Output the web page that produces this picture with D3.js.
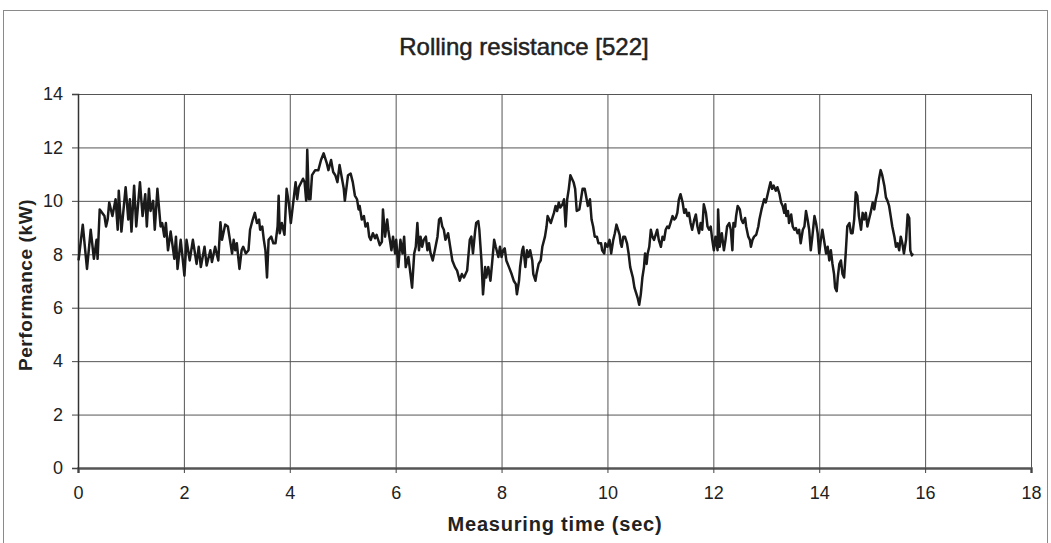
<!DOCTYPE html>
<html>
<head>
<meta charset="utf-8">
<script src="https://cdn.jsdelivr.net/npm/d3@7"></script>
<style>
  body { margin: 0; background: #ffffff; }
  svg { display: block; }
</style>
</head>
<body>
<svg id="chart" width="1051" height="543"></svg>
<script>
// Measured rolling-resistance power trace
const timeSec = [
  0.01,0.09,0.17,0.24,0.30,0.35,0.37,0.41,0.50,0.53,0.56,0.59,0.65,0.71,0.75,0.77,0.82,0.90,0.95,0.98,
  1.01,1.06,1.10,1.17,1.22,1.27,1.30,1.34,1.37,1.42,1.45,1.50,1.56,1.59,1.63,1.66,1.70,1.75,1.82,1.85,
  1.88,1.94,2.01,2.05,2.11,2.17,2.24,2.28,2.32,2.39,2.43,2.50,2.53,2.59,2.65,
  2.69,2.72,2.78,2.83,2.88,2.91,2.94,2.97,3.00,3.05,3.09,3.12,3.17,3.22,3.25,3.30,3.34,3.38,3.42,3.44,
  3.48,3.51,3.54,3.57,3.60,3.65,3.69,3.73,3.77,3.79,3.81,3.85,3.90,3.94,3.98,4.02,4.11,4.14,4.17,4.25,
  4.28,4.31,4.33,4.36,4.39,4.42,4.48,4.54,4.59,4.64,4.70,4.73,4.78,4.82,4.86,4.90,4.94,5.02,5.04,5.10,
  5.15,5.19,5.23,5.27,5.30,5.32,5.36,5.40,5.43,5.47,5.50,5.53,5.57,5.61,5.64,5.67,5.70,5.74,5.76,5.80,
  5.84,5.86,5.89,5.92,5.95,5.99,6.01,6.05,6.09,6.13,6.16,6.19,6.24,6.28,6.31,6.35,6.38,6.41,6.44,6.47,
  6.50,6.53,6.57,6.60,6.63,6.66,6.70,6.74,6.79,6.82,6.85,6.88,6.91,6.94,6.99,7.04,7.07,7.12,7.16,7.21,
  7.25,7.29,7.32,7.35,7.40,7.43,7.46,7.50,7.52,7.56,7.58,7.62,7.65,7.69,7.71,7.75,7.79,7.82,7.86,7.89,
  7.94,7.97,8.00,8.03,8.06,8.09,8.14,8.19,8.23,8.27,8.29,8.33,8.35,8.39,8.41,8.45,8.48,8.51,8.54,8.58,
  8.60,8.64,8.66,8.70,8.74,8.77,8.82,8.85,8.87,8.90,8.93,8.96,8.99,9.02,9.05,9.08,9.11,9.15,9.18,9.21,
  9.24,9.27,9.30,9.33,9.36,9.39,9.42,9.47,9.50,9.53,9.57,9.59,9.63,9.67,9.70,9.73,9.76,9.80,9.83,9.88,
  9.90,9.94,9.96,10.00,10.04,10.07,10.11,10.14,10.17,10.20,10.23,10.25,10.27,10.30,10.33,10.37,10.40,10.43,10.48,10.51,
  10.55,10.57,10.60,10.63,10.66,10.69,10.71,10.74,10.76,10.79,10.82,10.85,10.88,10.91,10.94,10.97,11.01,11.04,11.07,11.10,
  11.13,11.16,11.19,11.23,11.26,11.29,11.32,11.35,11.38,11.42,11.45,11.48,11.51,11.54,11.57,11.60,11.64,11.67,11.70,11.73,
  11.76,11.79,11.82,11.86,11.89,11.92,11.95,11.98,12.01,12.04,12.08,12.09,12.12,12.16,12.20,12.23,12.26,12.30,12.33,12.36,
  12.38,12.41,12.43,12.46,12.50,12.53,12.56,12.60,12.62,12.66,12.69,12.71,12.74,12.77,12.81,12.85,12.87,12.91,12.96,12.99,
  13.02,13.05,13.08,13.11,13.14,13.18,13.21,13.25,13.28,13.31,13.34,13.36,13.38,13.41,13.43,13.47,13.50,13.53,13.56,13.59,
  13.62,13.65,13.69,13.72,13.75,13.78,13.81,13.84,13.87,13.91,13.94,13.97,14.00,14.03,14.06,14.09,14.13,14.16,14.19,14.22,
  14.25,14.28,14.30,14.33,14.35,14.38,14.41,14.44,14.47,14.50,14.53,14.57,14.60,14.63,14.66,14.69,14.72,14.75,14.79,14.82,
  14.85,14.88,14.91,14.94,14.97,15.01,15.04,15.07,15.10,15.13,15.16,15.19,15.23,15.26,15.29,15.32,15.35,15.38,15.42,15.45,
  15.48,15.51,15.54,15.57,15.60,15.64,15.67,15.70,15.72,15.75,15.77
];
const powerKw = [
  7.77,9.11,7.45,8.92,7.83,8.54,7.83,9.68,9.43,9.04,9.30,9.94,9.43,10.06,8.92,10.38,8.85,10.51,9.30,10.06,
  8.85,10.57,9.04,10.70,9.43,10.25,9.04,10.45,9.62,10.00,8.92,10.45,9.04,9.17,8.66,9.17,8.15,8.85,7.83,8.66,
  7.45,8.54,7.20,8.54,7.77,8.54,7.64,8.28,7.52,8.28,7.58,8.15,7.71,8.28,7.77,
  9.20,8.54,9.11,9.04,8.41,8.03,8.54,8.15,8.41,7.45,8.15,8.28,8.03,8.15,8.92,9.30,9.55,9.17,9.30,8.92,
  9.04,8.54,8.15,7.13,8.54,8.66,8.41,8.41,9.04,10.19,8.79,9.17,8.73,10.45,9.94,9.17,10.70,10.06,10.51,10.83,
  10.70,10.00,11.91,10.06,10.06,10.96,11.15,11.15,11.53,11.78,11.40,11.15,11.53,11.08,10.96,10.70,11.34,10.45,10.00,10.96,
  11.02,10.70,10.20,10.06,9.68,9.81,9.30,9.43,9.04,9.17,8.66,8.54,8.79,8.60,8.73,8.54,8.34,8.47,9.68,8.66,
  9.30,8.92,8.54,8.15,8.66,8.03,8.54,7.52,8.54,8.03,8.66,7.52,7.90,7.26,6.75,8.03,8.28,9.17,8.15,8.66,
  8.28,8.54,8.66,8.15,8.41,8.03,7.77,8.15,8.66,9.30,9.36,9.04,8.92,8.54,8.79,8.15,7.77,7.52,7.39,7.01,
  7.26,7.13,7.26,7.39,8.54,8.66,8.03,8.85,9.17,9.24,8.92,7.77,6.50,7.52,7.13,7.52,7.01,7.64,8.54,8.28,
  7.90,8.28,7.90,8.15,8.22,7.77,7.52,7.26,7.01,6.88,6.50,7.01,7.52,8.15,8.28,7.52,8.15,7.90,8.15,7.77,
  7.26,7.01,7.26,7.64,7.77,8.28,8.66,9.04,9.43,9.30,9.17,9.36,9.55,9.81,9.62,9.94,9.75,9.87,10.06,9.04,
  10.06,10.45,10.96,10.83,10.70,10.45,9.62,9.68,10.06,10.45,10.45,10.25,9.81,10.06,9.30,9.04,8.66,8.66,8.41,8.41,
  8.15,8.03,8.41,8.28,8.54,8.03,8.54,8.79,9.11,8.92,8.73,8.41,8.28,8.66,8.66,8.41,8.03,7.52,7.13,6.75,
  6.50,6.37,6.11,6.50,7.13,7.52,8.03,7.64,8.03,8.28,8.92,8.66,8.54,8.73,8.92,8.54,8.28,8.66,8.54,8.92,
  9.04,8.98,9.17,9.43,9.30,9.36,9.55,10.06,10.25,9.94,9.55,9.68,9.43,9.55,9.17,8.92,9.30,9.49,9.04,8.79,
  9.17,8.92,9.87,9.55,9.04,8.92,9.04,8.54,8.15,8.66,8.15,9.68,8.28,8.79,8.15,8.54,9.04,9.17,8.92,8.15,
  9.17,9.04,9.43,9.81,9.68,9.30,9.17,9.36,9.04,8.66,8.54,8.28,8.54,8.66,8.73,9.04,9.30,9.68,10.06,9.94,
  10.19,10.45,10.70,10.45,10.57,10.38,10.51,10.25,9.94,9.81,9.55,9.87,9.43,9.62,9.17,9.49,9.04,8.92,8.98,8.79,
  8.92,8.41,8.92,9.04,9.62,9.30,8.92,8.15,8.66,9.43,9.17,8.79,8.03,8.54,8.92,8.54,8.03,8.28,7.77,8.15,
  7.64,7.26,6.75,6.62,7.13,7.64,7.77,7.26,7.13,8.03,9.04,9.17,8.79,8.79,9.30,10.32,10.19,9.43,8.92,9.55,
  9.30,9.55,9.04,9.30,9.55,9.94,9.68,10.06,10.32,10.83,11.15,10.96,10.57,10.13,10.00,9.81,9.43,9.04,8.66,8.28,
  8.41,8.15,8.66,8.41,8.03,8.54,9.49,9.36,8.15,7.96,8.03
];

const xTicks = [0, 2, 4, 6, 8, 10, 12, 14, 16, 18];
const yTicks = [0, 2, 4, 6, 8, 10, 12, 14];
const chartTitle = "Rolling resistance [522]";
const xTitle = "Measuring time (sec)";
const yTitle = "Performance (kW)";

const FONT = "'Liberation Sans', Arial, sans-serif";
const svg = d3.select("#chart");
const W = 1051, H = 543;
const plot = { left: 78, right: 1031, top: 94, bottom: 468 };

// outer chart frame
svg.append("rect")
  .attr("x", 3.5).attr("y", 10.5)
  .attr("width", W - 7).attr("height", H)
  .attr("fill", "#ffffff")
  .attr("stroke", "#8a8a8a").attr("stroke-width", 1);

const x = d3.scaleLinear().domain([0, 18]).range([plot.left, plot.right]);
const y = d3.scaleLinear().domain([0, 14]).range([plot.bottom, plot.top]);

// gridlines
svg.append("g")
  .attr("transform", `translate(0,${plot.bottom})`)
  .call(d3.axisBottom(x).tickValues(xTicks.slice(1)).tickSize(-(plot.bottom - plot.top)).tickFormat(""))
  .call(g => g.select(".domain").remove())
  .call(g => g.selectAll("line").attr("stroke", "#555").attr("stroke-width", 1));

svg.append("g")
  .attr("transform", `translate(${plot.left},0)`)
  .call(d3.axisLeft(y).tickValues(yTicks.slice(1)).tickSize(-(plot.right - plot.left)).tickFormat(""))
  .call(g => g.select(".domain").remove())
  .call(g => g.selectAll("line").attr("stroke", "#555").attr("stroke-width", 1));

// axes with short outer ticks
const xAxis = svg.append("g")
  .attr("transform", `translate(0,${plot.bottom})`)
  .call(d3.axisBottom(x).tickValues(xTicks).tickSize(5).tickPadding(13).tickFormat(d3.format("d")));
xAxis.select(".domain").attr("stroke", "#555").attr("stroke-width", 2.5);
xAxis.selectAll("line").attr("stroke", "#444");
xAxis.selectAll("text")
  .attr("font-family", FONT)
  .attr("font-size", 18).attr("fill", "#222");

const yAxis = svg.append("g")
  .attr("transform", `translate(${plot.left},0)`)
  .call(d3.axisLeft(y).tickValues(yTicks).tickSize(6).tickPadding(9).tickFormat(d3.format("d")));
yAxis.select(".domain").attr("stroke", "#333").attr("stroke-width", 1.5);
yAxis.selectAll("line").attr("stroke", "#444");
yAxis.selectAll("text")
  .attr("font-family", FONT)
  .attr("font-size", 18).attr("fill", "#222");

// data line
const pts = timeSec.map((t, i) => [t, powerKw[i]]);
svg.append("path")
  .datum(pts)
  .attr("fill", "none")
  .attr("stroke", "#1a1a1a")
  .attr("stroke-width", 2.5)
  .attr("stroke-linejoin", "round")
  .attr("d", d3.line().x(d => x(d[0])).y(d => y(d[1])));

// titles
svg.append("text")
  .attr("x", 524).attr("y", 55)
  .attr("text-anchor", "middle")
  .attr("font-family", FONT)
  .attr("font-size", 24).attr("fill", "#222")
  .attr("stroke", "#222").attr("stroke-width", 0.5)
  .text(chartTitle);

svg.append("text")
  .attr("x", 555).attr("y", 531)
  .attr("text-anchor", "middle")
  .attr("font-family", FONT)
  .attr("font-weight", "bold")
  .attr("font-size", 20).attr("letter-spacing", 0.8).attr("fill", "#222")
  .text(xTitle);

svg.append("text")
  .attr("transform", "translate(32,285) rotate(-90)")
  .attr("text-anchor", "middle")
  .attr("font-family", FONT)
  .attr("font-weight", "bold")
  .attr("font-size", 19).attr("letter-spacing", 0.6).attr("fill", "#222")
  .text(yTitle);
</script>
</body>
</html>
